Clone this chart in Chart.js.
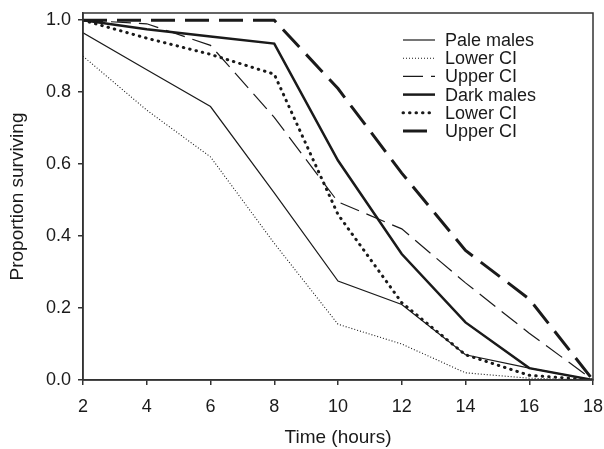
<!DOCTYPE html>
<html>
<head>
    <title>Proportion surviving</title>
    <script src="https://cdn.jsdelivr.net/npm/chart.js"></script>
    <style>
        body { margin: 0; background: #ffffff; }
        #wrap { width: 604px; height: 449px; }
    </style>
</head>
<body>
    <div id="wrap"><canvas id="surv-chart"></canvas></div>
<script>
    // values
    var hours = [2, 4, 6, 8, 10, 12, 14, 16, 18];
    var paleMales = [0.965, 0.862, 0.76, 0.52, 0.275, 0.21, 0.07, 0.033, 0];
    var paleLower = [0.90, 0.75, 0.62, 0.38, 0.155, 0.10, 0.02, 0.005, 0];
    var paleUpper = [1.0, 0.99, 0.93, 0.73, 0.495, 0.42, 0.27, 0.13, 0];
    var darkMales = [1.0, 0.975, 0.955, 0.935, 0.61, 0.35, 0.16, 0.033, 0];
    var darkLower = [1.0, 0.95, 0.905, 0.85, 0.46, 0.215, 0.07, 0.013, 0];
    var darkUpper = [1.0, 1.0, 1.0, 1.0, 0.81, 0.575, 0.36, 0.225, 0];
    var yTicks = [0, 0.2, 0.4, 0.6, 0.8, 1.0];

    var ink = '#1a1a1a';
    var axisCol = '#333333';
    var font = 'Liberation Sans, Arial, Helvetica, sans-serif';

    function pts(vals) {
        return hours.map(function (h, i) { return { x: h, y: vals[i] }; });
    }

    function line(label, vals, width, dash, cap) {
        return {
            label: label,
            data: pts(vals),
            borderColor: ink,
            borderWidth: width,
            borderDash: dash,
            borderCapStyle: cap || 'butt',
            pointRadius: 0,
            tension: 0,
            fill: false
        };
    }

    // legend drawn inside the plot, top right
    var legendInside = {
        id: 'legendInside',
        afterDraw: function (chart) {
            var ctx = chart.ctx;
            ctx.save();
            ctx.font = '18px ' + font;
            ctx.textBaseline = 'middle';
            ctx.fillStyle = ink;
            chart.data.datasets.forEach(function (ds, i) {
                var y = 40 + i * 18.2;
                ctx.strokeStyle = ink;
                ctx.lineWidth = ds.borderWidth;
                ctx.lineCap = ds.borderCapStyle;
                ctx.setLineDash(ds.borderDash);
                ctx.beginPath();
                ctx.moveTo(403, y);
                ctx.lineTo(435, y);
                ctx.stroke();
                ctx.setLineDash([]);
                ctx.fillText(ds.label, 445, y + 1);
            });
            ctx.restore();
        }
    };

    // closed frame round the plot area
    var frame = {
        id: 'frame',
        afterDraw: function (chart) {
            var a = chart.chartArea;
            var ctx = chart.ctx;
            ctx.save();
            ctx.strokeStyle = axisCol;
            ctx.lineWidth = 1.5;
            ctx.strokeRect(a.left, a.top, a.right - a.left, a.bottom - a.top);
            ctx.restore();
        }
    };

    var ctx = document.getElementById('surv-chart').getContext('2d');
    var survChart = new Chart(ctx, {
        type: 'line',
        data: {
            datasets: [
                line('Pale males', paleMales, 1.2, []),
                line('Lower CI', paleLower, 1.1, [1, 2]),
                line('Upper CI', paleUpper, 1.2, [20, 8]),
                line('Dark males', darkMales, 2.5, []),
                line('Lower CI', darkLower, 3, [0.5, 6], 'round'),
                line('Upper CI', darkUpper, 3, [24, 10])
            ]
        },
        options: {
            responsive: true,
            maintainAspectRatio: false,
            animation: false,
            layout: { padding: { top: 13, right: 11, left: 0, bottom: 0 } },
            plugins: {
                legend: { display: false },
                tooltip: { enabled: false }
            },
            scales: {
                x: {
                    type: 'linear',
                    min: 2,
                    max: 18,
                    afterFit: function (s) {
                        s.height = 69;
                        s.paddingLeft = 0;
                        s.paddingRight = 0;
                    },
                    ticks: {
                        stepSize: 2,
                        color: ink,
                        padding: 11,
                        font: { family: font, size: 18 }
                    },
                    grid: { drawOnChartArea: false, drawTicks: true, tickLength: 5, color: axisCol, lineWidth: 1.5 },
                    border: { display: true, color: axisCol, width: 1.5 },
                    title: {
                        display: true,
                        text: 'Time (hours)',
                        color: ink,
                        padding: { top: 0, bottom: 0 },
                        font: { family: font, size: 19 }
                    }
                },
                y: {
                    min: 0,
                    max: 1.02,
                    afterFit: function (s) {
                        s.width = 83;
                        s.paddingTop = 0;
                        s.paddingBottom = 0;
                    },
                    afterBuildTicks: function (s) {
                        s.ticks = yTicks.map(function (v) { return { value: v }; });
                    },
                    ticks: {
                        color: ink,
                        padding: 7,
                        font: { family: font, size: 18 },
                        callback: function (v) { return Number(v).toFixed(1); }
                    },
                    grid: { drawOnChartArea: false, drawTicks: true, tickLength: 5, color: axisCol, lineWidth: 1.5 },
                    border: { display: true, color: axisCol, width: 1.5 },
                    title: {
                        display: true,
                        text: 'Proportion surviving',
                        color: ink,
                        padding: { top: 6, bottom: 0 },
                        font: { family: font, size: 19 }
                    }
                }
            }
        },
        plugins: [legendInside, frame]
    });
</script>
</body>
</html>
